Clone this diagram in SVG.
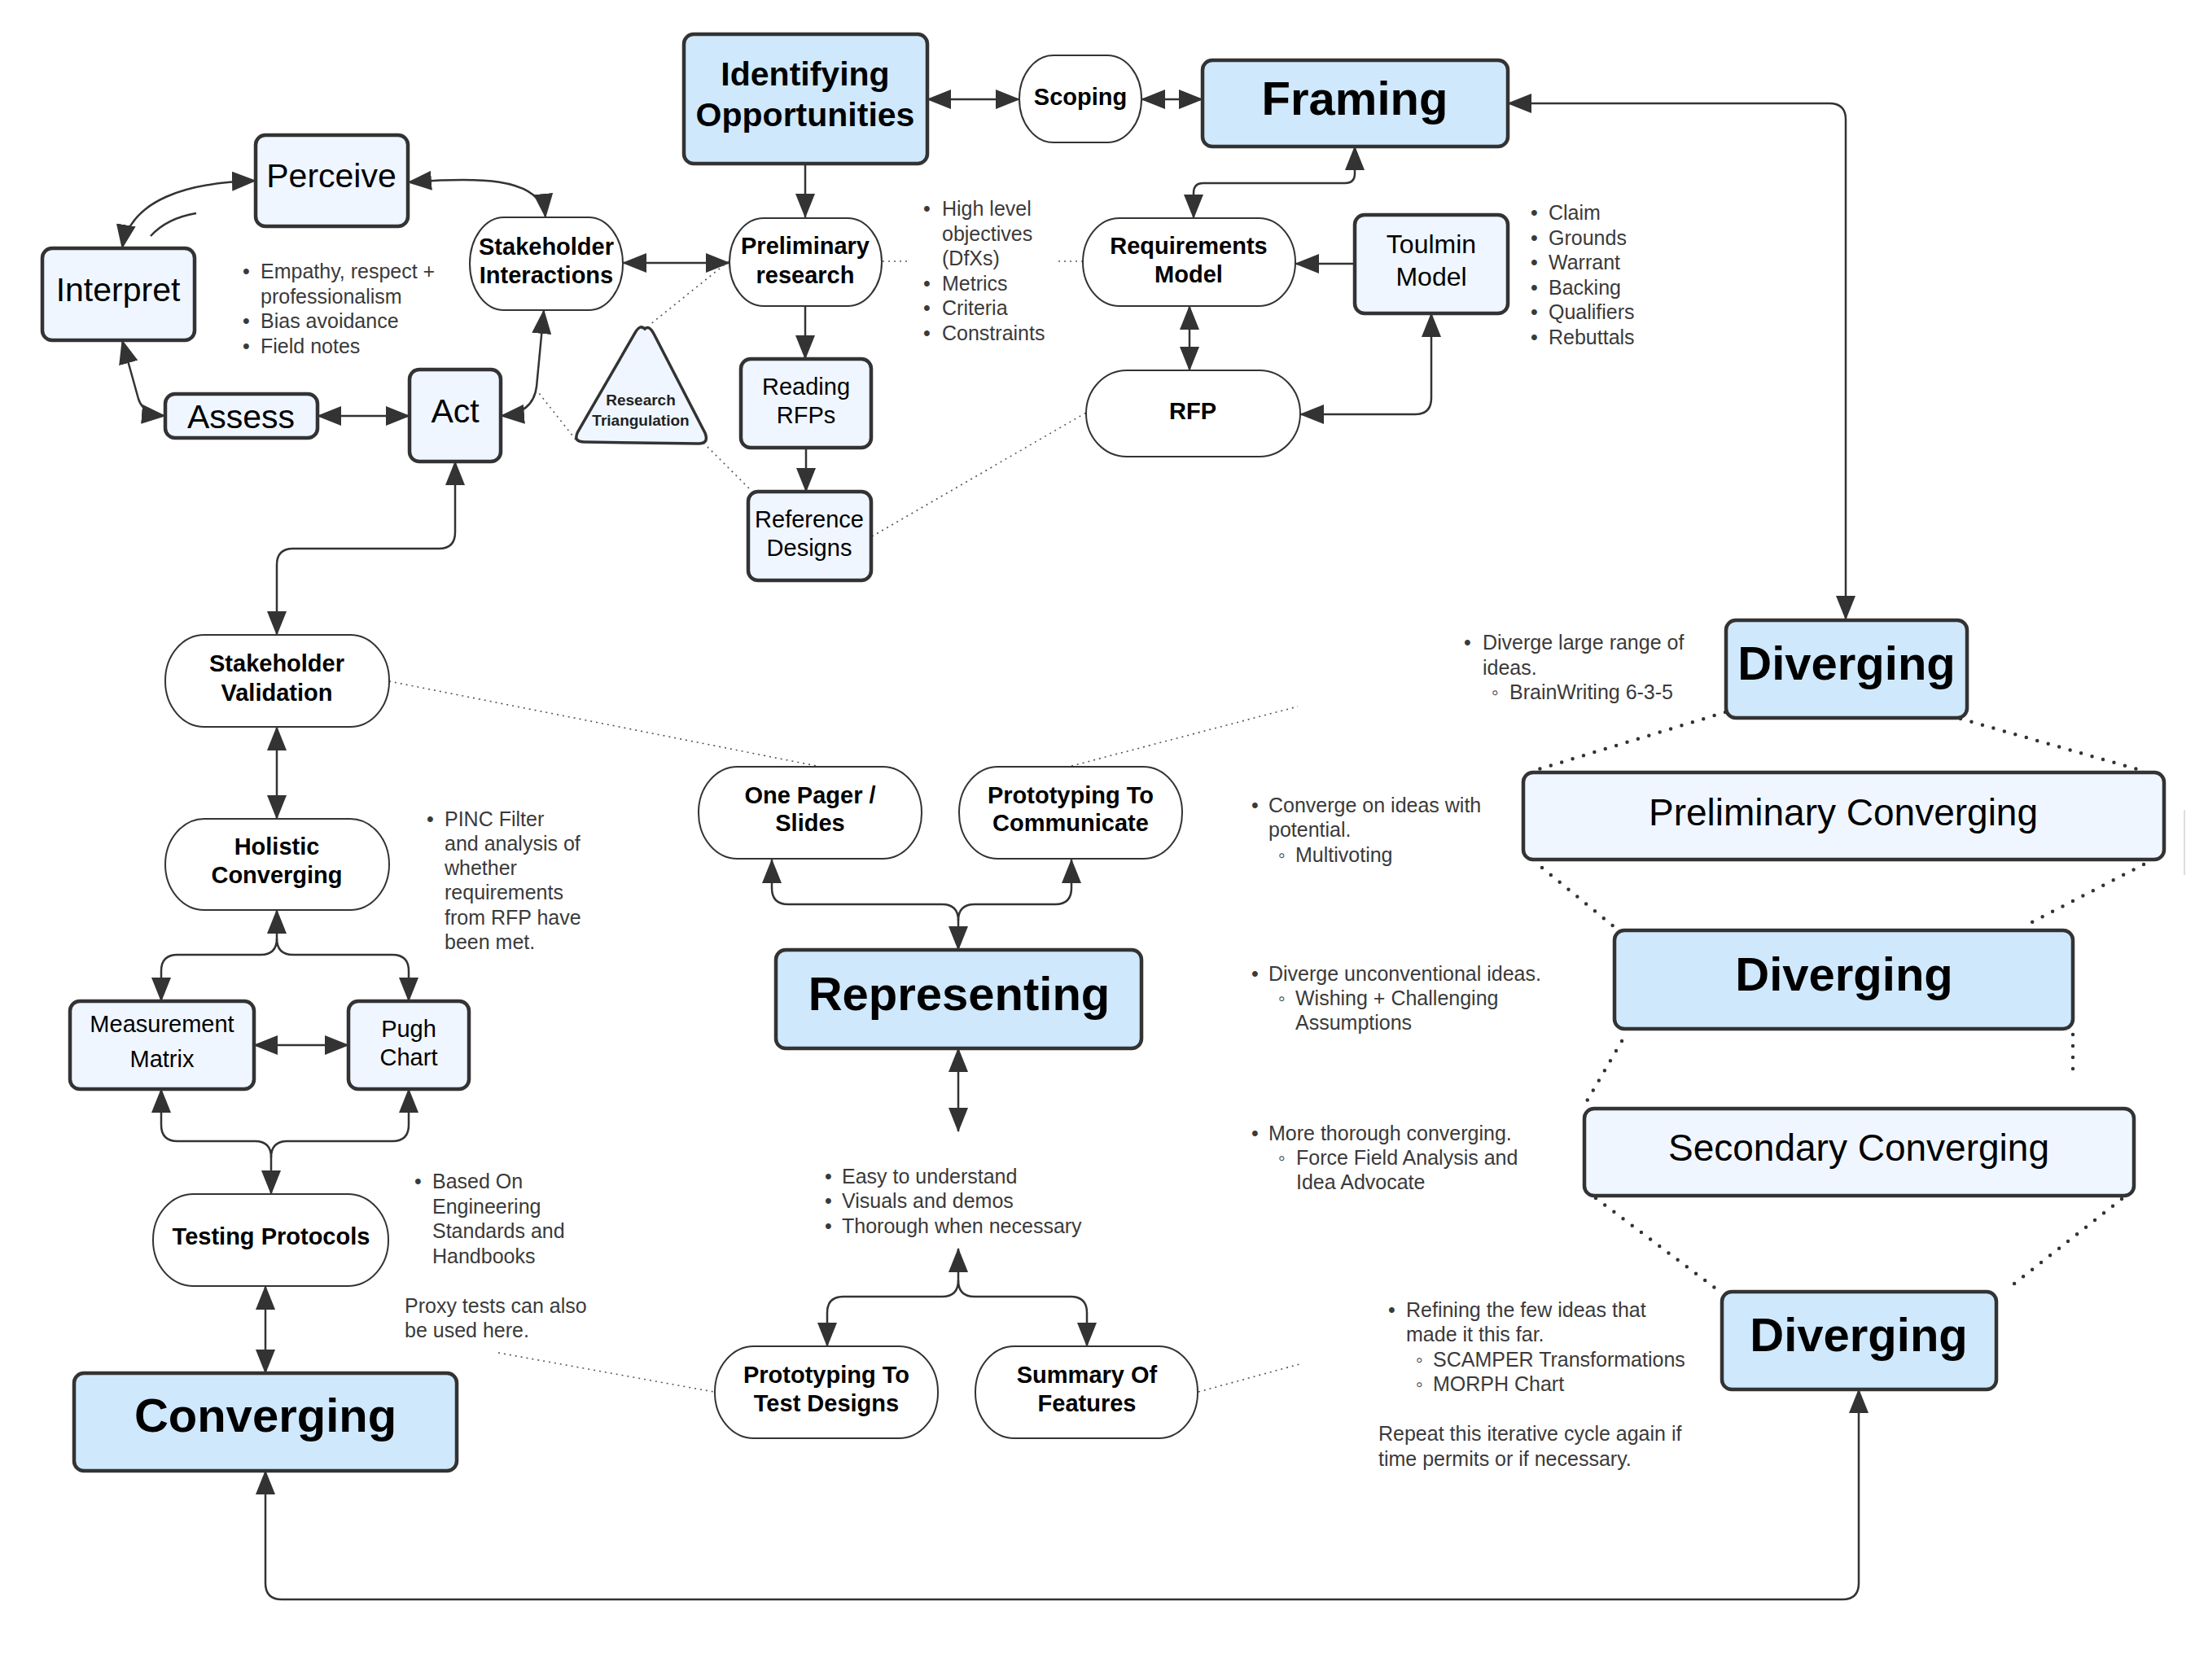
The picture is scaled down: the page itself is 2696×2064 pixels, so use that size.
<svg xmlns="http://www.w3.org/2000/svg" width="2696" height="2064" viewBox="0 0 2696 2064">
<defs>
<marker id="ah" markerUnits="userSpaceOnUse" markerWidth="30" markerHeight="24" viewBox="0 0 30 24" refX="29" refY="12" orient="auto-start-reverse">
<path d="M0,0 L30,12 L0,24 z" fill="#333"/>
</marker>
<style>
.major{fill:#CFE8FC;stroke:#333;stroke-width:4.5}
.light{fill:#EFF6FF;stroke:#333;stroke-width:4.5}
.stad{fill:#fff;stroke:#333;stroke-width:2}
.con{fill:none;stroke:#333;stroke-width:2.5}
.dot{fill:none;stroke:#555;stroke-width:1.6;stroke-dasharray:2 5}
.hdot{fill:none;stroke:#333;stroke-width:4.5;stroke-linecap:round;stroke-dasharray:0 14}
text{font-family:"Liberation Sans",Arial,sans-serif}
.c{text-anchor:middle;dominant-baseline:central;fill:#000}
.b29{font-size:29px;font-weight:bold}
.n29{font-size:29px}
.n32{font-size:32px}
.n41{font-size:41px}
.b41{font-size:41px;font-weight:bold}
.b58{font-size:58px;font-weight:bold}
.n46{font-size:46px}
.tri{font-size:19px;font-weight:bold;fill:#222}
.note{font-size:25px;fill:#3a3a3a;dominant-baseline:central}
</style>
</defs>
<rect width="2696" height="2064" fill="#fff"/>

<g id="connectors">
<path class="con" d="M1139 122 L1252 122" marker-start="url(#ah)" marker-end="url(#ah)"/>
<path class="con" d="M1402 122 L1477 122" marker-start="url(#ah)" marker-end="url(#ah)"/>
<path class="con" d="M989 201 L989 267" marker-end="url(#ah)"/>
<path class="con" d="M989 376 L989 441" marker-end="url(#ah)"/>
<path class="con" d="M990 550 L990 604" marker-end="url(#ah)"/>
<path class="con" d="M765 323 L896 323" marker-start="url(#ah)" marker-end="url(#ah)"/>
<path class="con" d="M1664 180 V213 Q1664 225 1652 225 H1478 Q1466 225 1466 237 V268" marker-start="url(#ah)" marker-end="url(#ah)"/>
<path class="con" d="M1664 324 L1591 324" marker-end="url(#ah)"/>
<path class="con" d="M1461 376 L1461 455" marker-start="url(#ah)" marker-end="url(#ah)"/>
<path class="con" d="M1597 509 H1738 Q1758 509 1758 489 V385" marker-start="url(#ah)" marker-end="url(#ah)"/>
<path class="con" d="M1852 127 H2247 Q2267 127 2267 147 V761" marker-start="url(#ah)" marker-end="url(#ah)"/>
<path class="con" d="M314 222 C230 224 160 245 150 305" marker-start="url(#ah)" marker-end="url(#ah)"/>
<path class="con" d="M185 290 Q205 268 241 262"/>
<path class="con" d="M501 224 C580 218 665 215 670 267" marker-start="url(#ah)" marker-end="url(#ah)"/>
<path class="con" d="M150 418 L170 490 Q176 509 203 511" marker-start="url(#ah)" marker-end="url(#ah)"/>
<path class="con" d="M390 511 L503 511" marker-start="url(#ah)" marker-end="url(#ah)"/>
<path class="con" d="M668 381 L659 475 Q655 508 615 511" marker-start="url(#ah)" marker-end="url(#ah)"/>
<path class="con" d="M559 567 V654 Q559 674 539 674 H360 Q340 674 340 694 V780" marker-start="url(#ah)" marker-end="url(#ah)"/>
<path class="con" d="M340 893 V1006" marker-start="url(#ah)" marker-end="url(#ah)"/>
<path class="con" d="M340 1118 V1153 Q340 1173 320 1173 H218 Q198 1173 198 1193 V1230" marker-start="url(#ah)" marker-end="url(#ah)"/>
<path class="con" d="M340 1153 Q340 1173 360 1173 H482 Q502 1173 502 1193 V1230" marker-end="url(#ah)"/>
<path class="con" d="M312 1284 L428 1284" marker-start="url(#ah)" marker-end="url(#ah)"/>
<path class="con" d="M198 1338 V1382 Q198 1402 218 1402 H313 Q333 1402 333 1422 V1467" marker-start="url(#ah)" marker-end="url(#ah)"/>
<path class="con" d="M502 1338 V1382 Q502 1402 482 1402 H353 Q333 1402 333 1422" marker-start="url(#ah)"/>
<path class="con" d="M326 1580 V1687" marker-start="url(#ah)" marker-end="url(#ah)"/>
<path class="con" d="M326 1807 V1945 Q326 1965 346 1965 H2263 Q2283 1965 2283 1945 V1707" marker-start="url(#ah)" marker-end="url(#ah)"/>
<path class="con" d="M1316 1056 V1091 Q1316 1111 1296 1111 H1197 Q1177 1111 1177 1131 V1167" marker-start="url(#ah)" marker-end="url(#ah)"/>
<path class="con" d="M948 1056 V1091 Q948 1111 968 1111 H1157 Q1177 1111 1177 1131" marker-start="url(#ah)"/>
<path class="con" d="M1177 1288 V1390" marker-start="url(#ah)" marker-end="url(#ah)"/>
<path class="con" d="M1177 1534 V1573 Q1177 1593 1157 1593 H1036 Q1016 1593 1016 1613 V1654" marker-start="url(#ah)" marker-end="url(#ah)"/>
<path class="con" d="M1177 1573 Q1177 1593 1197 1593 H1315 Q1335 1593 1335 1613 V1654" marker-end="url(#ah)"/>

<path class="dot" d="M895 321 L798 399"/>
<path class="dot" d="M864 544 L921 601"/>
<path class="dot" d="M658 478 L707 540"/>
<path class="dot" d="M1084 321 L1118 321"/>
<path class="dot" d="M1300 321 L1330 321"/>
<path class="dot" d="M1071 659 L1334 507"/>
<path class="dot" d="M478 837 L1003 941"/>
<path class="dot" d="M1316 941 L1594 868"/>
<path class="dot" d="M612 1662 L877 1710"/>
<path class="dot" d="M1472 1710 L1596 1676"/>

<path class="hdot" d="M2119 875 L1890 945"/>
<path class="hdot" d="M2408 883 L2632 947"/>
<path class="hdot" d="M1894 1066 L1983 1139"/>
<path class="hdot" d="M2633 1062 L2484 1139"/>
<path class="hdot" d="M1992 1279 L1946 1358"/>
<path class="hdot" d="M2546 1271 L2546 1327"/>
<path class="hdot" d="M1960 1472 L2106 1582"/>
<path class="hdot" d="M2606 1473 L2464 1585"/>
<path d="M2683 995 L2683 1075" stroke="#ddd" stroke-width="2"/>
</g>

<g id="identifying"><rect class="major" x="840" y="42" width="299" height="159" rx="12"/>
<text class="c b41" x="989" y="91">Identifying</text><text class="c b41" x="989" y="141">Opportunities</text></g>
<g id="scoping"><rect class="stad" x="1252" y="68" width="150" height="107" rx="42" ry="53"/>
<text class="c b29" x="1327" y="119">Scoping</text></g>
<g id="framing"><rect class="major" x="1477" y="74" width="375" height="106" rx="12"/>
<text class="c b58" x="1664" y="120">Framing</text></g>

<g id="perceive"><rect class="light" x="314" y="166" width="187" height="112" rx="12"/>
<text class="c n41" x="407" y="216">Perceive</text></g>
<g id="interpret"><rect class="light" x="52" y="305" width="187" height="113" rx="12"/>
<text class="c n41" x="145" y="356">Interpret</text></g>
<g id="assess"><rect class="light" x="203" y="484" width="187" height="54" rx="12"/>
<text class="c n41" x="296" y="512">Assess</text></g>
<g id="act"><rect class="light" x="503" y="454" width="112" height="113" rx="12"/>
<text class="c n41" x="559" y="505">Act</text></g>
<g id="stakeholder-interactions"><rect class="stad" x="577" y="267" width="188" height="114" rx="42" ry="57"/>
<text class="c b29" x="671" y="303">Stakeholder</text><text class="c b29" x="671" y="338">Interactions</text></g>
<g id="research-triangulation"><path d="M792 404 Q786 398 780 409 L710 530 Q703 543 718 543 L858 545 Q871 545 866 532 L803 410 Q797 399 792 404 z" fill="#EFF6FF" stroke="#333" stroke-width="3.5"/>
<text class="c tri" x="787" y="491">Research</text><text class="c tri" x="787" y="516">Triangulation</text></g>

<g id="preliminary-research"><rect class="stad" x="896" y="268" width="187" height="108" rx="42" ry="54"/>
<text class="c b29" x="989" y="302">Preliminary</text><text class="c b29" x="989" y="338">research</text></g>
<g id="reading-rfps"><rect class="light" x="910" y="441" width="160" height="109" rx="12"/>
<text class="c n29" x="990" y="475">Reading</text><text class="c n29" x="990" y="510">RFPs</text></g>
<g id="reference-designs"><rect class="light" x="919" y="604" width="151" height="109" rx="12"/>
<text class="c n29" x="994" y="638">Reference</text><text class="c n29" x="994" y="673">Designs</text></g>
<g id="requirements-model"><rect class="stad" x="1330" y="268" width="261" height="108" rx="45" ry="54"/>
<text class="c b29" x="1460" y="302">Requirements</text><text class="c b29" x="1460" y="337">Model</text></g>
<g id="toulmin-model"><rect class="light" x="1664" y="264" width="188" height="121" rx="12"/>
<text class="c n32" x="1758" y="300">Toulmin</text><text class="c n32" x="1758" y="340">Model</text></g>
<g id="rfp"><rect class="stad" x="1334" y="455" width="263" height="106" rx="50" ry="53"/>
<text class="c b29" x="1465" y="505">RFP</text></g>

<g id="stakeholder-validation"><rect class="stad" x="203" y="780" width="275" height="113" rx="48" ry="56"/>
<text class="c b29" x="340" y="815">Stakeholder</text><text class="c b29" x="340" y="851">Validation</text></g>
<g id="holistic-converging"><rect class="stad" x="203" y="1006" width="275" height="112" rx="48" ry="56"/>
<text class="c b29" x="340" y="1040">Holistic</text><text class="c b29" x="340" y="1075">Converging</text></g>
<g id="measurement-matrix"><rect class="light" x="86" y="1230" width="226" height="108" rx="12"/>
<text class="c n29" x="199" y="1258">Measurement</text><text class="c n29" x="199" y="1301">Matrix</text></g>
<g id="pugh-chart"><rect class="light" x="428" y="1230" width="148" height="108" rx="12"/>
<text class="c n29" x="502" y="1264">Pugh</text><text class="c n29" x="502" y="1299">Chart</text></g>
<g id="testing-protocols"><rect class="stad" x="188" y="1467" width="289" height="113" rx="50" ry="56"/>
<text class="c b29" x="333" y="1519">Testing Protocols</text></g>
<g id="converging"><rect class="major" x="91" y="1687" width="470" height="120" rx="12"/>
<text class="c b58" x="326" y="1738">Converging</text></g>

<g id="one-pager"><rect class="stad" x="858" y="942" width="274" height="113" rx="48" ry="56"/>
<text class="c b29" x="995" y="977">One Pager /</text><text class="c b29" x="995" y="1011">Slides</text></g>
<g id="prototyping-communicate"><rect class="stad" x="1178" y="942" width="274" height="113" rx="48" ry="56"/>
<text class="c b29" x="1315" y="977">Prototyping To</text><text class="c b29" x="1315" y="1011">Communicate</text></g>
<g id="representing"><rect class="major" x="953" y="1167" width="449" height="121" rx="12"/>
<text class="c b58" x="1178" y="1220">Representing</text></g>
<g id="prototyping-test"><rect class="stad" x="878" y="1654" width="274" height="113" rx="48" ry="56"/>
<text class="c b29" x="1015" y="1689">Prototyping To</text><text class="c b29" x="1015" y="1724">Test Designs</text></g>
<g id="summary-features"><rect class="stad" x="1198" y="1654" width="273" height="113" rx="48" ry="56"/>
<text class="c b29" x="1335" y="1689">Summary Of</text><text class="c b29" x="1335" y="1724">Features</text></g>

<g id="diverging-1"><rect class="major" x="2120" y="762" width="296" height="120" rx="12"/>
<text class="c b58" x="2268" y="814">Diverging</text></g>
<g id="preliminary-converging"><rect class="light" x="1871" y="949" width="787" height="107" rx="12"/>
<text class="c n46" x="2264" y="998">Preliminary Converging</text></g>
<g id="diverging-2"><rect class="major" x="1983" y="1143" width="563" height="121" rx="12"/>
<text class="c b58" x="2265" y="1196">Diverging</text></g>
<g id="secondary-converging"><rect class="light" x="1946" y="1362" width="675" height="107" rx="12"/>
<text class="c n46" x="2283" y="1410">Secondary Converging</text></g>
<g id="diverging-3"><rect class="major" x="2115" y="1587" width="337" height="120" rx="12"/>
<text class="c b58" x="2283" y="1639">Diverging</text></g>

<g id="notes">
<text class="note" x="298" y="333">•</text><text class="note" x="320" y="333">Empathy, respect +</text>
<text class="note" x="320" y="364">professionalism</text>
<text class="note" x="298" y="394">•</text><text class="note" x="320" y="394">Bias avoidance</text>
<text class="note" x="298" y="425">•</text><text class="note" x="320" y="425">Field notes</text>

<text class="note" x="1134" y="256">•</text><text class="note" x="1157" y="256">High level</text>
<text class="note" x="1157" y="287">objectives</text>
<text class="note" x="1157" y="317">(DfXs)</text>
<text class="note" x="1134" y="348">•</text><text class="note" x="1157" y="348">Metrics</text>
<text class="note" x="1134" y="378">•</text><text class="note" x="1157" y="378">Criteria</text>
<text class="note" x="1134" y="409">•</text><text class="note" x="1157" y="409">Constraints</text>

<text class="note" x="1880" y="261">•</text><text class="note" x="1902" y="261">Claim</text>
<text class="note" x="1880" y="292">•</text><text class="note" x="1902" y="292">Grounds</text>
<text class="note" x="1880" y="322">•</text><text class="note" x="1902" y="322">Warrant</text>
<text class="note" x="1880" y="353">•</text><text class="note" x="1902" y="353">Backing</text>
<text class="note" x="1880" y="383">•</text><text class="note" x="1902" y="383">Qualifiers</text>
<text class="note" x="1880" y="414">•</text><text class="note" x="1902" y="414">Rebuttals</text>

<text class="note" x="524" y="1006">•</text><text class="note" x="546" y="1006">PINC Filter</text>
<text class="note" x="546" y="1036">and analysis of</text>
<text class="note" x="546" y="1066">whether</text>
<text class="note" x="546" y="1096">requirements</text>
<text class="note" x="546" y="1127">from RFP have</text>
<text class="note" x="546" y="1157">been met.</text>

<text class="note" x="509" y="1451">•</text><text class="note" x="531" y="1451">Based On</text>
<text class="note" x="531" y="1482">Engineering</text>
<text class="note" x="531" y="1512">Standards and</text>
<text class="note" x="531" y="1543">Handbooks</text>
<text class="note" x="497" y="1604">Proxy tests can also</text>
<text class="note" x="497" y="1634">be used here.</text>

<text class="note" x="1013" y="1445">•</text><text class="note" x="1034" y="1445">Easy to understand</text>
<text class="note" x="1013" y="1475">•</text><text class="note" x="1034" y="1475">Visuals and demos</text>
<text class="note" x="1013" y="1506">•</text><text class="note" x="1034" y="1506">Thorough when necessary</text>

<text class="note" x="1798" y="789">•</text><text class="note" x="1821" y="789">Diverge large range of</text>
<text class="note" x="1821" y="820">ideas.</text>
<text class="note" x="1832" y="850">◦</text><text class="note" x="1854" y="850">BrainWriting 6-3-5</text>

<text class="note" x="1537" y="989">•</text><text class="note" x="1558" y="989">Converge on ideas with</text>
<text class="note" x="1558" y="1019">potential.</text>
<text class="note" x="1570" y="1050">◦</text><text class="note" x="1591" y="1050">Multivoting</text>

<text class="note" x="1537" y="1196">•</text><text class="note" x="1558" y="1196">Diverge unconventional ideas.</text>
<text class="note" x="1570" y="1226">◦</text><text class="note" x="1591" y="1226">Wishing + Challenging</text>
<text class="note" x="1591" y="1256">Assumptions</text>

<text class="note" x="1537" y="1392">•</text><text class="note" x="1558" y="1392">More thorough converging.</text>
<text class="note" x="1570" y="1422">◦</text><text class="note" x="1592" y="1422">Force Field Analysis and</text>
<text class="note" x="1592" y="1452">Idea Advocate</text>

<text class="note" x="1705" y="1609">•</text><text class="note" x="1727" y="1609">Refining the few ideas that</text>
<text class="note" x="1727" y="1639">made it this far.</text>
<text class="note" x="1739" y="1670">◦</text><text class="note" x="1760" y="1670">SCAMPER Transformations</text>
<text class="note" x="1739" y="1700">◦</text><text class="note" x="1760" y="1700">MORPH Chart</text>
<text class="note" x="1693" y="1761">Repeat this iterative cycle again if</text>
<text class="note" x="1693" y="1792">time permits or if necessary.</text>
</g>
</svg>
